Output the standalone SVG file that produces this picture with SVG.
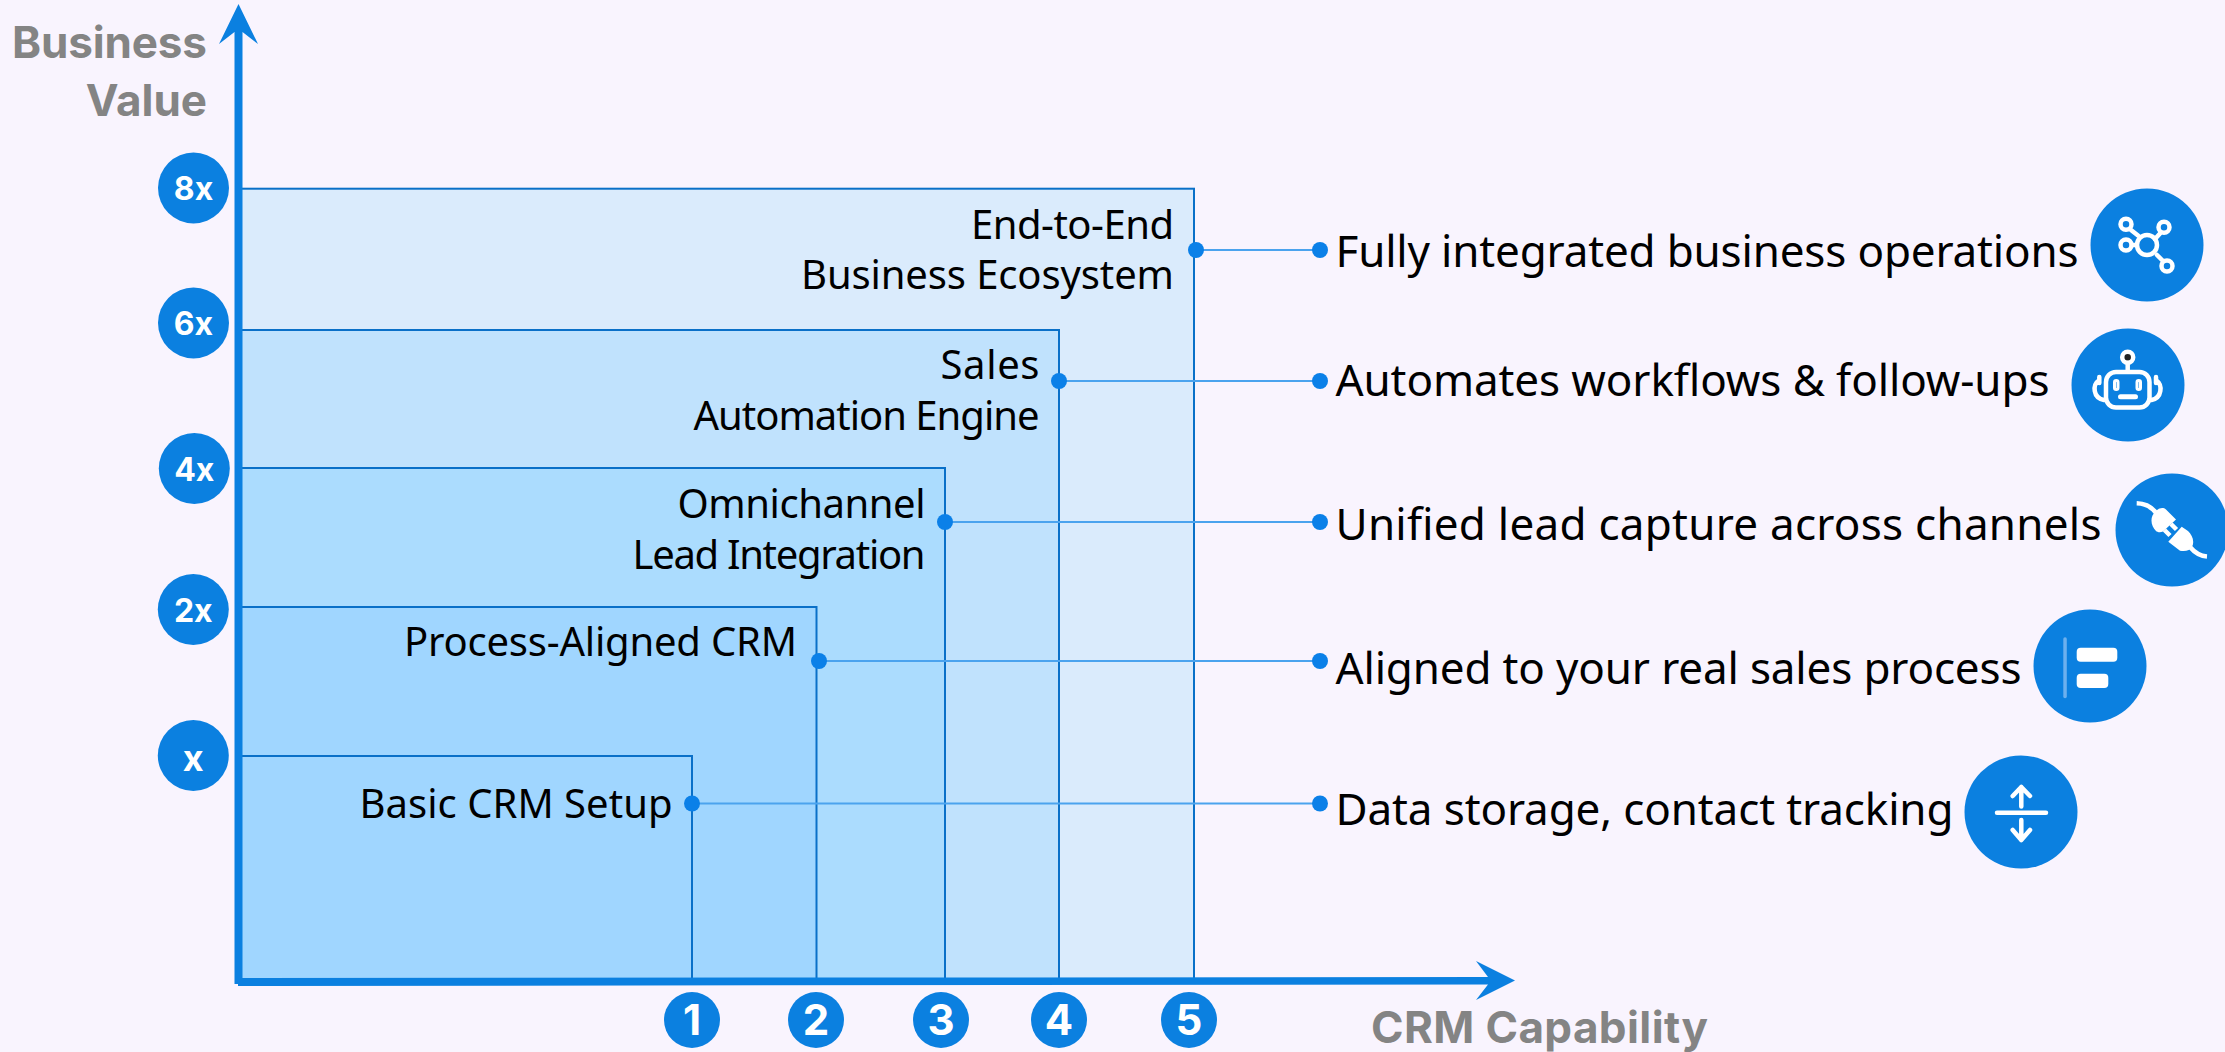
<svg xmlns="http://www.w3.org/2000/svg" width="2225" height="1052" viewBox="0 0 2225 1052">
<style>
.bg{fill:#F9F4FE}
.ln{stroke:#0A70C8;stroke-width:2;}
.ax{fill:#0B80E0}
.c{fill:#0B80E0}
.d{fill:#0B80E8}
.cn{stroke:#4BA3EE;stroke-width:2;fill:none}
.t{font-family:"Noto Sans","Open Sans",sans-serif;fill:#000}
.r{font-size:44px}
.m{font-size:40px;text-anchor:end}
.g{font-family:"Inter","Noto Sans",sans-serif;font-weight:700;fill:#848484;font-size:44px}
.n{font-family:"Inter","Noto Sans",sans-serif;font-weight:700;fill:#fff;font-size:32px;text-anchor:middle}
.k{font-size:42px}
.i{fill:none;stroke:#fff;stroke-width:4.500;stroke-linecap:round;stroke-linejoin:round}
.f{fill:#fff}
</style>
<rect class="bg" width="2225" height="1052"/>
<g id="levels">
<rect x="240" y="188.700" width="954" height="792" fill="#DAEBFC" class="ln"/>
<rect x="240" y="330" width="819" height="650" fill="#C0E2FD" class="ln"/>
<rect x="240" y="468" width="705" height="512" fill="#ABDCFE" class="ln"/>
<rect x="240" y="607" width="576.500" height="373" fill="#A0D6FF" class="ln"/>
<rect x="240" y="756" width="452" height="224" fill="#A0D6FF" class="ln"/>
</g>
<g id="axes">
<path class="ax" d="M238.500 4L258 44L242.500 32V978L1488 977L1476 961L1515 980.500L1476 1000L1488 984.500L238 986V984H234.500V32L219 44Z"/>
</g>
<g id="connectors">
<path class="cn" d="M1196 250H1320M1059 381H1320M945 522H1320M819 661H1320M692 803.500H1320"/>
</g>
<g id="dots">
<circle class="d" cx="1196" cy="250" r="8"/><circle class="d" cx="1320" cy="250" r="8"/>
<circle class="d" cx="1059" cy="381" r="8"/><circle class="d" cx="1320" cy="381" r="8"/>
<circle class="d" cx="945" cy="522" r="8"/><circle class="d" cx="1320" cy="522" r="8"/>
<circle class="d" cx="819" cy="661" r="8"/><circle class="d" cx="1320" cy="661" r="8"/>
<circle class="d" cx="692" cy="803.500" r="8"/><circle class="d" cx="1320" cy="803.500" r="8"/>
</g>
<g id="axis-titles">
<text class="g" x="207" y="58" text-anchor="end" textLength="195">Business</text>
<text class="g" x="207" y="116" text-anchor="end">Value</text>
<text class="g" x="1371" y="1043" textLength="337">CRM Capability</text>
</g>
<g id="y-8x"><circle class="c" cx="193.500" cy="188" r="35.500"/><text class="n" x="193.500" y="199.500">8x</text></g>
<g id="y-6x"><circle class="c" cx="193.500" cy="323" r="35.500"/><text class="n" x="193.500" y="334.500">6x</text></g>
<g id="y-4x"><circle class="c" cx="194.300" cy="468.500" r="35.500"/><text class="n" x="194.300" y="480.500">4x</text></g>
<g id="y-2x"><circle class="c" cx="193.300" cy="609.500" r="35.500"/><text class="n" x="193.300" y="621.500">2x</text></g>
<g id="y-x"><circle class="c" cx="193.300" cy="755.500" r="35.500"/><text class="n" x="193.300" y="770.500" style="font-size:36px">x</text></g>
<g id="x-1"><circle class="c" cx="692" cy="1020" r="28"/><text class="n k" x="692" y="1035">1</text></g>
<g id="x-2"><circle class="c" cx="816" cy="1020" r="28"/><text class="n k" x="816" y="1035">2</text></g>
<g id="x-3"><circle class="c" cx="941" cy="1020" r="28"/><text class="n k" x="941" y="1035">3</text></g>
<g id="x-4"><circle class="c" cx="1059" cy="1020" r="28"/><text class="n k" x="1059" y="1035">4</text></g>
<g id="x-5"><circle class="c" cx="1189" cy="1020" r="28"/><text class="n k" x="1189" y="1035">5</text></g>
<g id="label-5"><text class="t m" x="1174" y="238.500" textLength="203">End-to-End</text><text class="t m" x="1174" y="289" textLength="373">Business Ecosystem</text></g>
<g id="label-4"><text class="t m" x="1039.500" y="379" textLength="99">Sales</text><text class="t m" x="1039.500" y="430" textLength="346">Automation Engine</text></g>
<g id="label-3"><text class="t m" x="925.500" y="518" textLength="248">Omnichannel</text><text class="t m" x="925.500" y="569" textLength="293">Lead Integration</text></g>
<g id="label-2"><text class="t m" x="797" y="656" textLength="393">Process-Aligned CRM</text></g>
<g id="label-1"><text class="t m" x="672.500" y="818" textLength="313">Basic CRM Setup</text></g>
<g id="out-5"><text class="t r" x="1335.500" y="267" textLength="743">Fully integrated business operations</text>
<circle class="c" cx="2147" cy="245" r="56.500"/>
<g class="i"><circle cx="2147" cy="245" r="10"/><circle cx="2126" cy="224.300" r="5.500"/><circle cx="2164" cy="227.300" r="5.500"/><circle cx="2126" cy="245" r="5.500"/><circle cx="2167" cy="266" r="5.500"/><path d="M2131 230L2138 235.500M2160 233.500L2155 239M2157 255L2162.500 260.500M2132 245H2136"/></g></g>
<g id="out-4"><text class="t r" x="1335.500" y="396" textLength="714">Automates workflows &amp; follow-ups</text>
<circle class="c" cx="2128" cy="385" r="56.500"/>
<g class="i"><circle cx="2127.700" cy="357.300" r="5.500" fill="#222"/><path d="M2127.700 363V371"/><rect x="2106" y="372" width="43.500" height="35.500" rx="10"/><path d="M2099.300 377V383M2099.300 380C2092 385 2093 398 2104 400M2156 377V383M2156 380C2163 385 2162 398 2151.500 400"/><path d="M2120.500 396.700H2135.500" stroke-width="5"/><rect x="2114.500" y="380.500" width="3.500" height="9" rx="1.700" stroke-width="3"/><rect x="2137" y="380.500" width="3.500" height="9" rx="1.700" stroke-width="3"/></g></g>
<g id="out-3"><text class="t r" x="1335.500" y="540" textLength="766">Unified lead capture across channels</text>
<circle class="c" cx="2172" cy="530" r="56.500"/>
<path class="f" d="M2156 511C2159 508 2163 507 2166 509.500L2176 519.500L2163 531.500C2160 533 2157 532 2156 531C2151 526 2149 517 2156 511ZM2181.700 526.700L2168.300 541.700L2180 550.700C2186 552 2190 550 2192 547C2195 541 2192 535 2188 531Z"/>
<path class="i" style="stroke-linecap:butt" d="M2136.700 503.300C2146 503.500 2152 507 2157 514M2171 524L2176.500 529.500M2164.500 530L2170 535.500M2190 547C2195 553 2200 556 2207 556.500"/>
</g>
<g id="out-2"><text class="t r" x="1335.500" y="684" textLength="686">Aligned to your real sales process</text>
<circle class="c" cx="2090" cy="666" r="56.500"/>
<rect x="2063.300" y="637.300" width="3.500" height="61" rx="1.700" fill="#6DB0EE"/><rect class="f" x="2076.700" y="647.700" width="40.600" height="14" rx="4"/><rect class="f" x="2076.700" y="673.700" width="31.600" height="14.300" rx="4"/></g>
<g id="out-1"><text class="t r" x="1335.500" y="825" textLength="618">Data storage, contact tracking</text>
<circle class="c" cx="2021" cy="812" r="56.500"/>
<path class="i" d="M1997 812.700H2046M2021.300 787V806.500M2021.300 820V840M2012.700 796L2021.300 787L2030 796M2012.700 830L2021.300 840L2030 830"/></g>
</svg>
